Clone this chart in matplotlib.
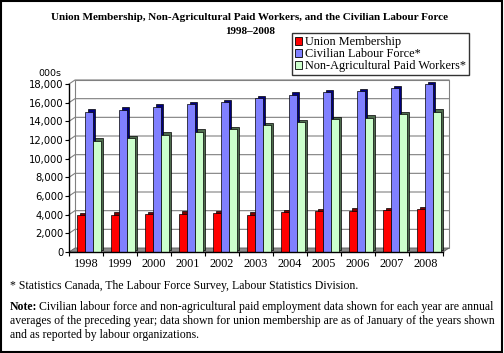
import matplotlib
matplotlib.use("Agg")
import matplotlib.pyplot as plt
import matplotlib.transforms as mtransforms
from matplotlib.patches import Polygon, Rectangle, Patch
import numpy as np

years = ["1998", "1999", "2000", "2001", "2002", "2003", "2004", "2005", "2006", "2007", "2008"]
union_membership = [3940, 4010, 4060, 4110, 4170, 3990, 4260, 4380, 4440, 4480, 4590]
civilian_labour = [15050, 15250, 15550, 15850, 16050, 16450, 16850, 17100, 17250, 17550, 17950]
non_agri_paid = [11900, 12200, 12550, 12900, 13150, 13600, 13900, 14200, 14400, 14750, 15050]
yticks = [0, 2000, 4000, 6000, 8000, 10000, 12000, 14000, 16000, 18000]

series = [
    ("Union Membership", union_membership, "#ff0000", "#800000"),
    ("Civilian Labour Force*", civilian_labour, "#8080ff", "#000080"),
    ("Non-Agricultural Paid Workers*", non_agri_paid, "#ccffcc", "#4d6b4d"),
]

SERIF = "Liberation Serif"
DPI = 100
fig = plt.figure(figsize=(5.04, 3.53), dpi=DPI)
ax = fig.add_axes([69 / 504, 101 / 353, 374 / 504, 168 / 353])
ax.set_xlim(-0.5, len(years) - 0.5)
ax.set_ylim(0, 18000)
ax.set_facecolor("none")

# depth of the fake 3d box, in pixels -> data units
ax_w = ax.get_position().width * fig.get_figwidth() * DPI
ax_h = ax.get_position().height * fig.get_figheight() * DPI
dx = 6 * len(years) / ax_w
dy = 4 * 18000 / ax_h
x0, x1 = -0.5, len(years) - 0.5

# back wall, gridlines
wall = "#808080"
ax.add_patch(Polygon([(x0 + dx, dy), (x1 + dx, dy), (x1 + dx, 18000 + dy), (x0 + dx, 18000 + dy)],
                     closed=True, facecolor="white", edgecolor=wall, lw=0.8, zorder=0.5, clip_on=False))
for yv in yticks[1:]:
    ax.plot([x0, x0 + dx, x1 + dx], [yv, yv + dy, yv + dy], color=wall, lw=0.8, zorder=0.6, clip_on=False)
# floor
ax.add_patch(Polygon([(x0, 0), (x1, 0), (x1 + dx, dy), (x0 + dx, dy)], closed=True,
                     facecolor="#8c8c8c", edgecolor="#606060", lw=0.6, zorder=1, clip_on=False))

# bars: front face plus a darker shifted copy for the side/top
x = np.arange(len(years))
w = 0.235
shift = 2.5 / DPI
off = mtransforms.ScaledTranslation(shift, shift, fig.dpi_scale_trans)
for i, (name, vals, face, side) in enumerate(series):
    pos = x + (i - 1) * w + dx / 2
    ax.bar(pos, vals, w, color=side, edgecolor="black", lw=0.5, zorder=2 + i * 0.1,
           transform=ax.transData + off, clip_on=False)
    ax.bar(pos, vals, w, color=face, edgecolor="black", lw=0.5, zorder=3 + i * 0.1, clip_on=False)

for s in ["top", "right"]:
    ax.spines[s].set_visible(False)
for s in ["left", "bottom"]:
    ax.spines[s].set_color("black")
    ax.spines[s].set_linewidth(1.0)
    ax.spines[s].set_zorder(5)

ax.set_yticks(yticks)
ax.set_yticklabels([f"{v:,}" for v in yticks], fontfamily="DejaVu Sans", fontsize=7.2)
ax.tick_params(axis="y", length=3, width=0.8, pad=1, colors="black")
ax.set_xticks(x)
ax.set_xticklabels(years, fontfamily=SERIF, fontsize=8.8)
ax.set_xticks(np.arange(len(years) + 1) - 0.5, minor=True)
ax.tick_params(axis="x", which="major", length=0, pad=4)
ax.tick_params(axis="x", which="minor", length=3, width=0.8)
ax.text(-0.02, 1.035, "000s", transform=ax.transAxes, ha="right", va="bottom",
        fontfamily="DejaVu Sans", fontsize=6.8)

# title
fig.text(0.496, 1 - 18 / 353, "Union Membership, Non-Agricultural Paid Workers, and the Civilian Labour Force",
         ha="center", va="center", fontfamily=SERIF, fontweight="bold", fontsize=8.0)
fig.text(0.496, 1 - 31 / 353, "1998\u20132008", ha="center", va="center",
         fontfamily=SERIF, fontweight="bold", fontsize=8.0)

handles = [Patch(facecolor=face, edgecolor="black", lw=0.6) for _, _, face, _ in series]
leg = fig.legend(handles, [s[0] for s in series], loc="upper left",
                 bbox_to_anchor=(292 / 504, 1 - 33 / 353), fontsize=8.8,
                 frameon=True, fancybox=False, borderpad=0.25, labelspacing=0.0,
                 handlelength=0.6, handleheight=0.6, handletextpad=0.2, borderaxespad=0)
for t in leg.get_texts():
    t.set_fontfamily(SERIF)
leg.get_frame().set_edgecolor("black")
leg.get_frame().set_linewidth(1.0)

# footnotes
FS = 8.5
fig.text(10 / 504, 1 - 286 / 353, "* Statistics Canada, The Labour Force Survey, Labour Statistics Division.",
         ha="left", va="center", fontfamily=SERIF, fontsize=FS)
note = fig.text(10 / 504, 1 - 307 / 353, "Note:", ha="left", va="center",
                fontfamily=SERIF, fontweight="bold", fontsize=FS)
fig.canvas.draw()
bb = note.get_window_extent()
fig.text(bb.x1 / (5.04 * DPI) + 0.004, 1 - 307 / 353,
         "Civilian labour force and non-agricultural paid employment data shown for each year are annual",
         ha="left", va="center", fontfamily=SERIF, fontsize=FS)
fig.text(10 / 504, 1 - 321 / 353,
         "averages of the preceding year; data shown for union membership are as of January of the years shown",
         ha="left", va="center", fontfamily=SERIF, fontsize=FS)
fig.text(10 / 504, 1 - 335 / 353, "and as reported by labour organizations.",
         ha="left", va="center", fontfamily=SERIF, fontsize=FS)

fig.patches.append(Rectangle((0.002, 0.003), 0.995, 0.994, transform=fig.transFigure,
                             fill=False, edgecolor="black", lw=1.5))

fig.savefig("out.png", dpi=DPI)
